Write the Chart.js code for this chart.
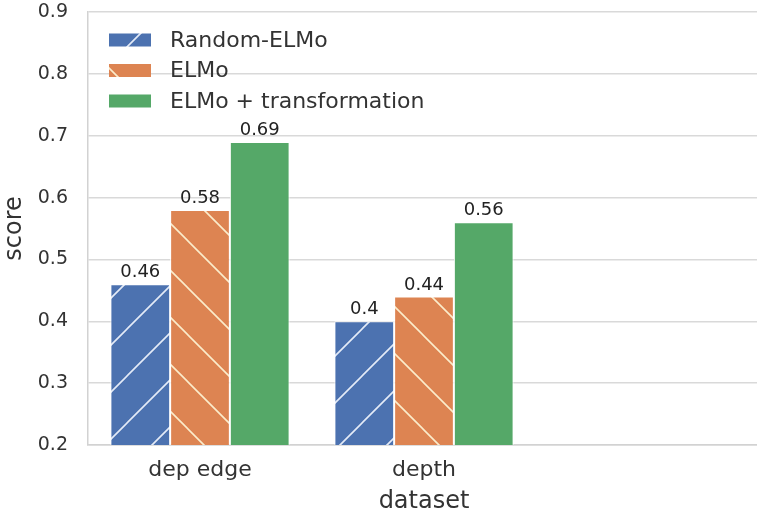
<!DOCTYPE html>
<html>
<head>
<meta charset="utf-8">
<script src="https://cdn.jsdelivr.net/npm/chart.js@4"></script>
<style>
  body { margin: 0; background: #fff; overflow: hidden; }
  #wrap { width: 757px; height: 516px; overflow: hidden; }
</style>
</head>
<body>
<div id="wrap"><canvas id="chart" width="760" height="516"></canvas></div>
<script>
// data
var categories = ['dep edge', 'depth', ''];
var seriesNames = ['Random-ELMo', 'ELMo', 'ELMo + transformation'];
var randomElmo = [0.46, 0.40, null];
var elmo = [0.58, 0.44, null];
var elmoTrans = [0.69, 0.56, null];
var yMin = 0.2, yMax = 0.9, yStep = 0.1;

var FONT = "'DejaVu Sans', sans-serif";
var canvas = document.getElementById('chart');
var ctx0 = canvas.getContext('2d');

// hatched fill like matplotlib's '/' and '\'
function hatch(color, lineColor, dir, dx, dy) {
  var s = 47;
  var c = document.createElement('canvas');
  c.width = s; c.height = s;
  var g = c.getContext('2d');
  g.fillStyle = color;
  g.fillRect(0, 0, s, s);
  if (dir) {
    g.strokeStyle = lineColor;
    g.lineWidth = 1.6;
    g.beginPath();
    if (dir == '/') {
      g.moveTo(0, s); g.lineTo(s, 0);
      g.moveTo(-3, 3); g.lineTo(3, -3);
      g.moveTo(s - 3, s + 3); g.lineTo(s + 3, s - 3);
    } else {
      g.moveTo(0, 0); g.lineTo(s, s);
      g.moveTo(-3, s - 3); g.lineTo(3, s + 3);
      g.moveTo(s - 3, -3); g.lineTo(s + 3, 3);
    }
    g.stroke();
  }
  var p = ctx0.createPattern(c, 'repeat');
  if (dx || dy) p.setTransform(new DOMMatrix().translate(dx || 0, dy || 0));
  return p;
}

var fills = [
  hatch('#4c72b0', '#e4ebf7', '/', 33, 0),
  hatch('#dd8452', '#fbeccb', '\\', 0, 6),
  hatch('#55a868', null, null)
];

// value labels + legend inside the plot
var extras = {
  id: 'extras',
  afterDatasetsDraw: function(chart) {
    var ctx = chart.ctx, a = chart.chartArea;
    ctx.save();
    ctx.font = '18px ' + FONT;
    ctx.fillStyle = '#222';
    ctx.textAlign = 'center';
    ctx.textBaseline = 'alphabetic';
    chart.data.datasets.forEach(function(ds, i) {
      chart.getDatasetMeta(i).data.forEach(function(bar, j) {
        var v = ds.data[j];
        if (v == null) return;
        ctx.fillText(String(v), bar.x, bar.y - 7);
      });
    });

    ctx.font = '22px ' + FONT;
    ctx.textAlign = 'left';
    ctx.textBaseline = 'middle';
    chart.data.datasets.forEach(function(ds, i) {
      var y = a.top + 28 + i * 30.5;
      ctx.fillStyle = ds.backgroundColor;
      ctx.fillRect(a.left + 21, y - 6.5, 42, 13);
      ctx.fillStyle = '#333';
      ctx.fillText(ds.label, a.left + 82, y + 1);
    });
    ctx.restore();
  }
};

new Chart(canvas, {
  type: 'bar',
  data: {
    labels: categories,
    datasets: [
      { label: seriesNames[0], data: randomElmo, backgroundColor: fills[0] },
      { label: seriesNames[1], data: elmo, backgroundColor: fills[1] },
      { label: seriesNames[2], data: elmoTrans, backgroundColor: fills[2] }
    ]
  },
  options: {
    responsive: false,
    animation: false,
    layout: { padding: { top: 12, right: 0, bottom: 0, left: 0 } },
    datasets: {
      bar: {
        categoryPercentage: 0.8,
        barPercentage: 1.0,
        borderColor: '#ffffff',
        borderWidth: 1
      }
    },
    plugins: {
      legend: { display: false },
      tooltip: { enabled: false }
    },
    scales: {
      x: {
        grid: { display: false, drawTicks: false },
        border: { display: true, color: '#d2d2d2', width: 1.5 },
        ticks: { color: '#333', font: { family: FONT, size: 22 }, padding: 12 },
        title: { display: true, text: 'dataset', color: '#333', font: { family: FONT, size: 24 }, padding: 0 },
        afterFit: function(s) { s.height = 71; s.paddingLeft = 0; s.paddingRight = 0; }
      },
      y: {
        min: yMin,
        max: yMax,
        ticks: {
          stepSize: yStep,
          color: '#333',
          font: { family: FONT, size: 19 },
          padding: 20,
          callback: function(v) { return v.toFixed(1); }
        },
        grid: { color: '#d9d9d9', lineWidth: 1.5, drawTicks: false },
        border: { display: true, color: '#d2d2d2', width: 1.5 },
        title: { display: true, text: 'score', color: '#333', font: { family: FONT, size: 24 }, padding: 0 },
        afterFit: function(s) { s.width = 88; s.paddingTop = 0; s.paddingBottom = 0; }
      }
    }
  },
  plugins: [extras]
});
</script>
</body>
</html>
